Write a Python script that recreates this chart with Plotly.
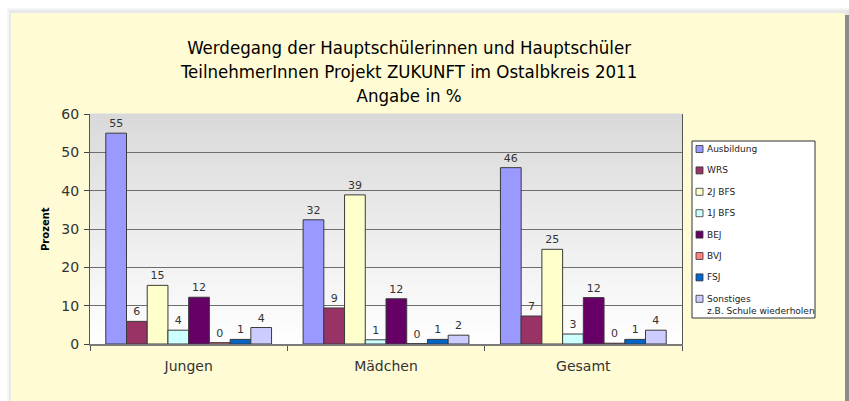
import plotly.graph_objects as go

# ---------------- data ----------------
categories = ["Jungen", "Mädchen", "Gesamt"]
series_names = ["Ausbildung", "WRS", "2J BFS", "1J BFS", "BEJ", "BVJ", "FSJ", "Sonstiges"]
legend_labels = ["Ausbildung", "WRS", "2J BFS", "1J BFS", "BEJ", "BVJ", "FSJ",
                 "Sonstiges<br>z.B. Schule wiederholen"]
ausbildung = [55.0, 32.4, 46.0]
wrs = [5.9, 9.4, 7.3]
bfs_2j = [15.3, 38.9, 24.7]
bfs_1j = [3.6, 1.1, 2.6]
bej = [12.2, 11.8, 12.1]
bvj = [0.35, 0.1, 0.2]
fsj = [1.2, 1.2, 1.2]
sonstiges = [4.3, 2.3, 3.6]
y_ticks = [0, 10, 20, 30, 40, 50, 60]
title_lines = ["Werdegang der Hauptschülerinnen und Hauptschüler",
               "TeilnehmerInnen Projekt ZUKUNFT im Ostalbkreis 2011",
               "Angabe in %"]
y_title = "Prozent"

series_values = [ausbildung, wrs, bfs_2j, bfs_1j, bej, bvj, fsj, sonstiges]
colors = ["#9999FF", "#993366", "#FFFFCC", "#CCFFFF", "#660066", "#FF8080", "#0066CC", "#CCCCFF"]

# ---------------- geometry helpers (pixels -> paper) ----------------
W, H = 849, 401
L, R, T, B = 90, 682, 114, 344


def px(x):
    return (x - L) / (R - L)


def py(y):
    return (B - y) / (B - T)


FONT = "DejaVu Sans"
label_font = dict(family=FONT, size=11, color="#333333")

fig = go.Figure()
for name, vals, col in zip(series_names, series_values, colors):
    fig.add_trace(go.Bar(
        name=name, x=categories, y=vals,
        marker=dict(color=col, line=dict(color="#3a3a3a", width=1)),
        texttemplate="%{y:.0f}", textposition="outside",
        textfont=label_font, outsidetextfont=label_font,
        cliponaxis=False, showlegend=False,
    ))

shapes = []
# outer shadow
shapes.append(dict(type="rect", xref="paper", yref="paper", x0=px(7), x1=px(849), y0=py(401), y1=py(8),
                   fillcolor="#f5f5f5", line=dict(width=0), layer="below"))
shapes.append(dict(type="rect", xref="paper", yref="paper", x0=px(9), x1=px(849), y0=py(401), y1=py(10),
                   fillcolor="#e8e8e8", line=dict(width=0), layer="below"))
shapes.append(dict(type="rect", xref="paper", yref="paper", x0=px(844), x1=px(849), y0=py(401), y1=py(15),
                   fillcolor="#8c8c8c", line=dict(width=0), layer="below"))
# yellow panel
shapes.append(dict(type="rect", xref="paper", yref="paper", x0=px(11), x1=px(845), y0=py(401), y1=py(13),
                   fillcolor="#FFFBD5", line=dict(width=0), layer="below"))
# gradient plot background
N = 46
for i in range(N):
    f0 = i / N
    f1 = (i + 1) / N
    fm = (f0 + f1) / 2
    g = int(round(255 - 38 * fm))
    shapes.append(dict(type="rect", xref="paper", yref="paper", x0=0, x1=1, y0=f0, y1=f1 + 0.002,
                       fillcolor=f"rgb({g},{g},{g})", line=dict(width=0), layer="below"))

annotations = []
# title
annotations.append(dict(text="<br>".join(title_lines), xref="paper", yref="paper",
                        x=px(408), y=py(71), xanchor="center", yanchor="middle", showarrow=False,
                        font=dict(family="DejaVu Sans Condensed", size=18.5, color="#000000")))
# y axis title
annotations.append(dict(text=f"<b>{y_title}</b>", xref="paper", yref="paper", x=px(45), y=0.5,
                        textangle=-90, xanchor="center", yanchor="middle", showarrow=False,
                        font=dict(family=FONT, size=10, color="#000000")))

# manual legend
shapes.append(dict(type="rect", xref="paper", yref="paper", x0=px(692), x1=px(815), y0=py(318), y1=py(141),
                   fillcolor="#FFFFFF", line=dict(color="#333333", width=1)))
for i, (lab, col) in enumerate(zip(legend_labels, colors)):
    yc = 149 + i * 21.4
    shapes.append(dict(type="rect", xref="paper", yref="paper", x0=px(696), x1=px(703),
                       y0=py(yc + 3.5), y1=py(yc - 3.5), fillcolor=col,
                       line=dict(color="#333333", width=0.8)))
    ty = yc if "<br>" not in lab else yc + 6
    annotations.append(dict(text=lab, xref="paper", yref="paper", x=px(704.5), y=py(ty),
                            xanchor="left", yanchor="middle", align="left", showarrow=False,
                            font=dict(family=FONT, size=9, color="#222222")))

fig.update_layout(
    width=W, height=H, autosize=False,
    margin=dict(l=L, r=W - R, t=T, b=H - B, pad=0),
    paper_bgcolor="#FFFFFF", plot_bgcolor="rgba(0,0,0,0)",
    barmode="group", bargap=0.16, bargroupgap=0,
    shapes=shapes, annotations=annotations,
    showlegend=False,
    xaxis=dict(type="category", tickson="boundaries", ticks="outside", ticklen=5, tickcolor="#555555",
               showline=True, linecolor="#7a7a7a", linewidth=1.5, showgrid=False,
               tickfont=dict(family=FONT, size=14, color="#333333"), ticklabelstandoff=8),
    yaxis=dict(range=[0, 60], tickvals=y_ticks, ticks="outside", ticklen=5, tickcolor="#444444",
               showline=True, linecolor="#555555", linewidth=1, mirror=True,
               showgrid=True, gridcolor="#6e6e6e", gridwidth=1, zeroline=False,
               tickfont=dict(family=FONT, size=14, color="#333333"), ticklabelstandoff=2),
)

fig.write_html("out.html", config={"displayModeBar": False},
               post_script="document.body.style.margin='0';")
